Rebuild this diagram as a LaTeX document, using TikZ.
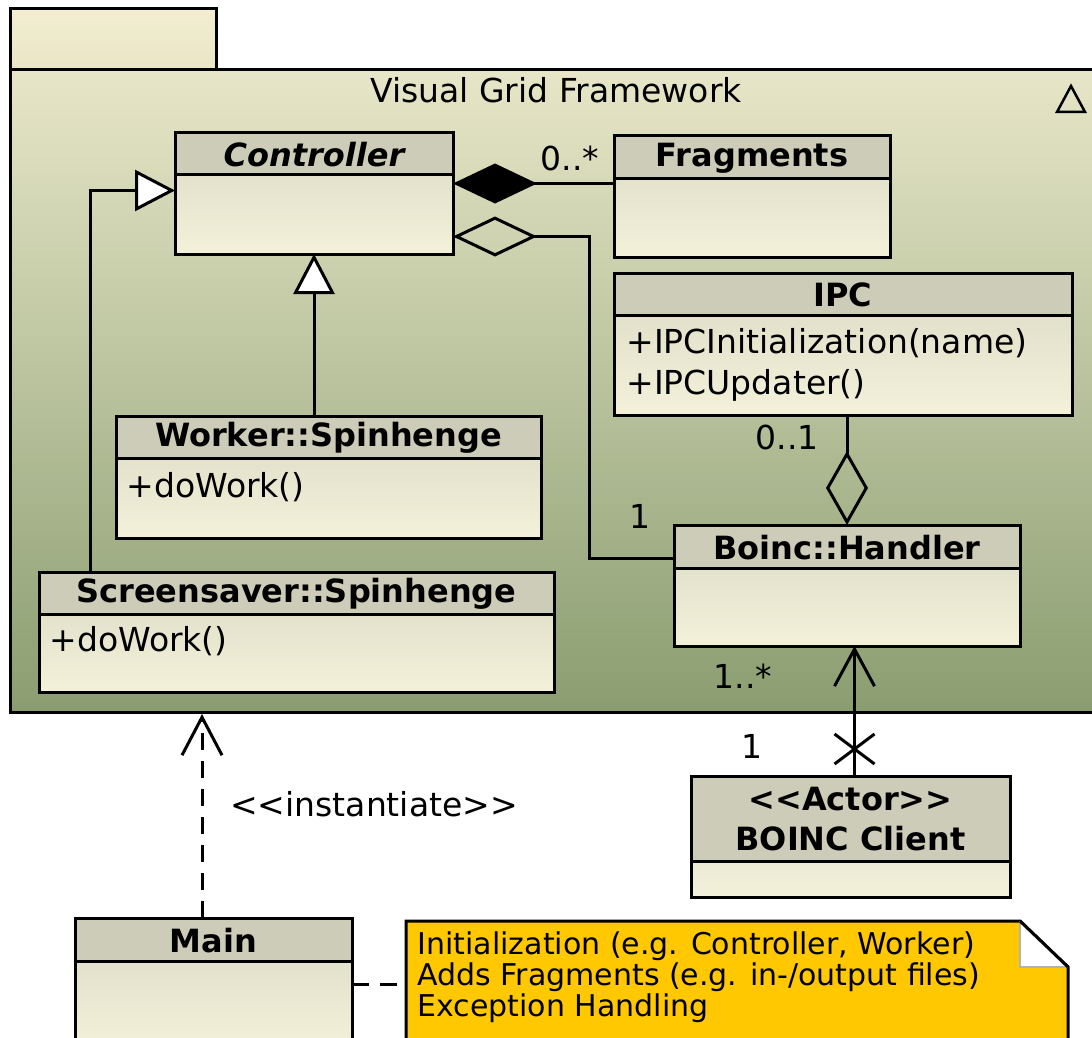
\documentclass[tikz,border=0pt]{standalone}
\usepackage{fontspec}
\setmainfont{DejaVu Sans}
\usetikzlibrary{arrows.meta}
\definecolor{hdrcol}{RGB}{205,204,184}
\definecolor{bodytop}{RGB}{219,218,196}
\definecolor{bodybot}{RGB}{243,241,218}
\definecolor{pkgtop}{RGB}{231,230,200}
\definecolor{pkgbot}{RGB}{138,157,112}
\definecolor{tabtop}{RGB}{243,238,210}
\definecolor{tabbot}{RGB}{233,229,197}
\definecolor{notecol}{RGB}{255,200,0}
\newcommand\umlclass[7]{%
  \node[clsbody, anchor=north west, minimum width={#4-#2}, minimum height={#5-#3}] (#1) at (#2,#3) {};
  \fill[hdrcol] (#2,#3) rectangle (#4,#6);
  \draw (#2,#6) -- (#4,#6);
  \draw (#1.north west) rectangle (#1.south east);
  \node[titlefont] (#1-title) at ({(#2+#4)/2},{(#3+#6)/2+1}) {#7};
}
\begin{document}
\begin{tikzpicture}[x=1pt,y=-1pt,line width=3pt,
  clsbody/.style={rectangle, inner sep=0pt, outer sep=0pt, top color=bodytop, bottom color=bodybot},
  titlefont/.style={inner sep=0pt, align=center, font=\fontsize{32}{40}\selectfont\bfseries},
  optext/.style={inner sep=0pt, anchor=west, font=\fontsize{33}{40}\selectfont},
  lbl/.style={inner sep=0pt, font=\fontsize{33}{40}\selectfont},
  notetext/.style={inner sep=0pt, anchor=west, font=\fontsize{30}{36}\selectfont},
  gen/.style={-{Triangle[length=40pt,width=41pt,fill=white]}},
  comp/.style={{Diamond[length=84pt,width=40pt]}-},
  aggr/.style={{Diamond[open,length=84pt,width=40pt]}-},
  dep/.style={dash pattern=on 17pt off 11pt}]
\useasboundingbox (0,0) rectangle (1092,1038);
\clip (0,0) rectangle (1092,1038);
% package
\node[rectangle, inner sep=0pt, anchor=north west, minimum width=206, minimum height=61, top color=tabtop, bottom color=tabbot, draw] (tab) at (9,7) {};
\node[rectangle, inner sep=0pt, anchor=north west, minimum width=1100, minimum height=643, top color=pkgtop, bottom color=pkgbot, draw] (pkg) at (9,68) {};
\node[lbl] (pkgtitle) at (556,90) {Visual Grid Framework};
\draw[line width=2.5pt] (1057,112) -- (1085,112) -- (1071,86) -- cycle;
% classes
\umlclass{ctrl}{175}{133}{453}{254}{174}{\itshape Controller}
\umlclass{frag}{614}{136}{890}{257}{178}{Fragments}
\umlclass{ipc}{614}{273}{1072}{415}{315}{IPC}
\node[optext] (ipcop1) at (625,343) {+IPCInitialization(name)};
\node[optext] (ipcop2) at (625,385) {+IPCUpdater()};
\umlclass{worker}{116}{416}{541}{538}{458}{Worker::Spinhenge}
\node[optext] (workerop) at (125,487) {+doWork()};
\umlclass{ss}{39}{572}{554}{692}{614}{Screensaver::Spinhenge}
\node[optext] (ssop) at (48,641) {+doWork()};
\umlclass{boinc}{674}{525}{1020}{646}{568}{Boinc::Handler}
\umlclass{client}{691}{776}{1010}{897}{861}{<\kern0pt<Actor>\kern0pt>\\BOINC Client}
\umlclass{main}{75}{918}{352}{1050}{961}{Main}
% note
\node[rectangle, inner sep=0pt, anchor=north west, minimum width=659, minimum height=129] (note) at (406,921) {};
\draw[fill=notecol] (note.north west) -- ([xshift=-48pt]note.north east) -- ([yshift=-46pt]note.north east) -- (note.south east) -- (note.south west) -- cycle;
\fill[white] ([xshift=-48pt]note.north east) -- ([xshift=-48pt,yshift=-46pt]note.north east) -- ([yshift=-46pt]note.north east) -- cycle;
\draw[line width=1.5pt, gray!60] ([xshift=-48pt]note.north east) -- ([xshift=-48pt,yshift=-46pt]note.north east) -- ([yshift=-46pt]note.north east);
\draw ([xshift=-48pt]note.north east) -- ([yshift=-46pt]note.north east);
\node[notetext] (n1) at (416,946) {Initialization (e.g. Controller, Worker)};
\node[notetext] (n2) at (416,977) {Adds Fragments (e.g. in-/output files)};
\node[notetext] (n3) at (416,1008) {Exception Handling};
% connectors
\coordinate (c1) at ([yshift=10pt]ctrl.east);
\draw[comp] (c1) -- (c1 -| frag.west);
\node[lbl] (m1) at (570,158) {0..*};
\coordinate (c2) at ([yshift=-43pt]ctrl.east);
\coordinate (c3) at ([yshift=27pt]boinc.west);
\draw[aggr] (c2) -- ++(136,0) |- (c3);
\node[lbl] (m2) at (640,516) {1};
\draw[{Diamond[open,length=74pt,width=42pt]}-] (boinc.north) -- (boinc.north |- ipc.south);
\node[lbl] (m3) at (787,437) {0..1};
\draw[gen] (ctrl.south |- worker.north) -- (ctrl.south);
\coordinate (c4) at ([yshift=3pt]ctrl.west);
\coordinate (c5) at ([xshift=-206.5pt]ss.north);
\draw[gen] (c5) |- (c4);
\coordinate (c6) at ([xshift=4pt]client.north);
\draw[-{Straight Barb[length=37pt,width=40pt]}] (c6) -- (c6 |- boinc.south);
\coordinate (xm) at ([yshift=27pt]c6);
\draw (xm) ++(-20,-15) -- ++(40,30);
\draw (xm) ++(20,-15) -- ++(-40,30);
\node[lbl] (m4) at (752,746) {1};
\node[lbl] (m5) at (743,676) {1..*};
\coordinate (c7) at ([xshift=-11.5pt]main.north);
\draw[dep, -{Straight Barb[length=38pt,width=40pt]}] (c7) -- (c7 |- pkg.south);
\node[lbl] (inst) at (374,804) {<\kern0pt<instantiate>\kern0pt>};
\draw[dep] (main.east) -- (main.east -| note.west);
\end{tikzpicture}
\end{document}
